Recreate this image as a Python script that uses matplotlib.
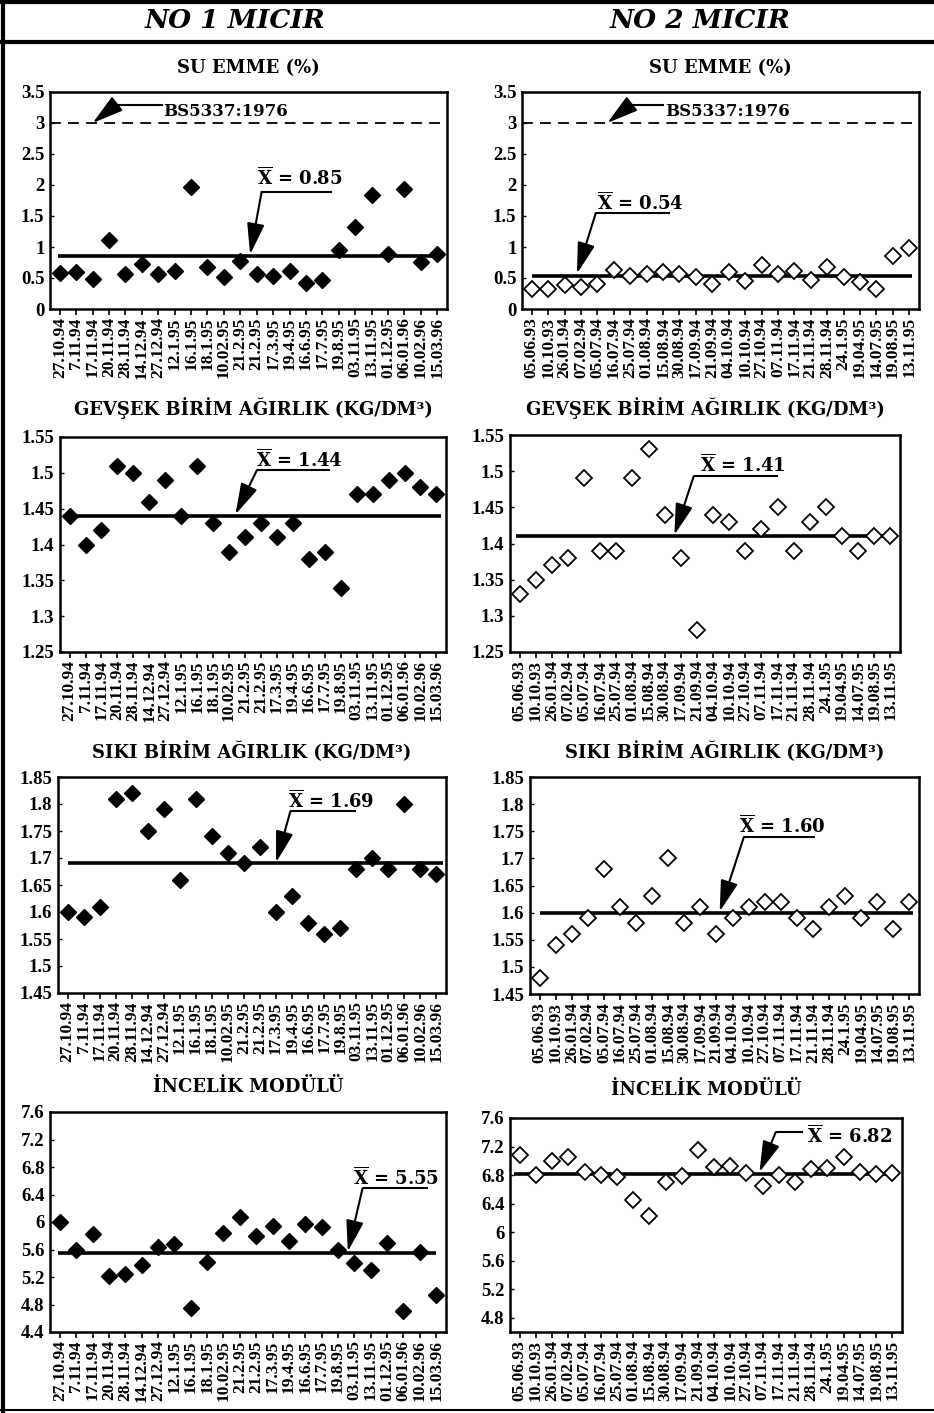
import numpy as np
import matplotlib
matplotlib.use("Agg")
import matplotlib.pyplot as plt
from matplotlib.lines import Line2D
from matplotlib.ticker import FormatStrFormatter

# dates of samples
dates_no1 = ["27.10.94", "7.11.94", "17.11.94", "20.11.94", "28.11.94", "14.12.94",
             "27.12.94", "12.1.95", "16.1.95", "18.1.95", "10.02.95", "21.2.95",
             "21.2.95", "17.3.95", "19.4.95", "16.6.95", "17.7.95", "19.8.95",
             "03.11.95", "13.11.95", "01.12.95", "06.01.96", "10.02.96", "15.03.96"]
dates_no2 = ["05.06.93", "10.10.93", "26.01.94", "07.02.94", "05.07.94", "16.07.94",
             "25.07.94", "01.08.94", "15.08.94", "30.08.94", "17.09.94", "21.09.94",
             "04.10.94", "10.10.94", "27.10.94", "07.11.94", "17.11.94", "21.11.94",
             "28.11.94", "24.1.95", "19.04.95", "14.07.95", "19.08.95", "13.11.95"]

su_no1 = [0.58, 0.60, 0.48, 1.12, 0.57, 0.73, 0.56, 0.61, 1.96, 0.68, 0.51, 0.77,
          0.56, 0.53, 0.61, 0.42, 0.47, 0.95, 1.33, 1.84, 0.88, 1.94, 0.75, 0.88]
su_no2 = [0.33, 0.32, 0.38, 0.35, 0.40, 0.63, 0.53, 0.57, 0.60, 0.57, 0.52, 0.40,
          0.60, 0.45, 0.71, 0.57, 0.61, 0.46, 0.68, 0.52, 0.43, 0.33, 0.85, 0.99]
gevsek_no1 = [1.44, 1.40, 1.42, 1.51, 1.50, 1.46, 1.49, 1.44, 1.51, 1.43, 1.39, 1.41,
              1.43, 1.41, 1.43, 1.38, 1.39, 1.34, 1.47, 1.47, 1.49, 1.50, 1.48, 1.47]
gevsek_no2 = [1.33, 1.35, 1.37, 1.38, 1.49, 1.39, 1.39, 1.49, 1.53, 1.44, 1.38, 1.28,
              1.44, 1.43, 1.39, 1.42, 1.45, 1.39, 1.43, 1.45, 1.41, 1.39, 1.41, 1.41]
siki_no1 = [1.60, 1.59, 1.61, 1.81, 1.82, 1.75, 1.79, 1.66, 1.81, 1.74, 1.71, 1.69,
            1.72, 1.60, 1.63, 1.58, 1.56, 1.57, 1.68, 1.70, 1.68, 1.80, 1.68, 1.67]
siki_no2 = [1.48, 1.54, 1.56, 1.59, 1.68, 1.61, 1.58, 1.63, 1.70, 1.58, 1.61, 1.56,
            1.59, 1.61, 1.62, 1.62, 1.59, 1.57, 1.61, 1.63, 1.59, 1.62, 1.57, 1.62]
incelik_no1 = [6.00, 5.60, 5.83, 5.22, 5.25, 5.38, 5.63, 5.68, 4.75, 5.42, 5.84, 6.07,
               5.80, 5.94, 5.72, 5.97, 5.93, 5.60, 5.40, 5.30, 5.69, 4.70, 5.56, 4.94]
incelik_no2 = [7.08, 6.80, 7.00, 7.05, 6.85, 6.80, 6.77, 6.45, 6.22, 6.70, 6.78, 7.15,
               6.92, 6.93, 6.83, 6.65, 6.80, 6.70, 6.88, 6.90, 7.05, 6.85, 6.82, 6.83]

means = [0.85, 0.54, 1.44, 1.41, 1.69, 1.60, 5.55, 6.82]
bs_limit = 3.0

titles = ["SU EMME (%)", "GEVŞEK BİRİM AĞIRLIK (KG/DM³)",
          "SIKI BİRİM AĞIRLIK (KG/DM³)", "İNCELİK MODÜLÜ"]
headers = ["NO 1 MICIR", "NO 2 MICIR"]

W, H = 934, 1413
SERIF = "DejaVu Serif"
TICKFONT = "Liberation Serif"
plt.rcParams["mathtext.fontset"] = "dejavuserif"
ARROW = dict(arrowstyle="-|>,head_length=1.6,head_width=0.45", color="k", lw=1.5,
             shrinkA=0, shrinkB=0, mutation_scale=12)

fig = plt.figure(figsize=(W / 100, H / 100), dpi=100)


def px_axes(x0, y0, x1, y1):
    return fig.add_axes([x0 / W, 1 - y1 / H, (x1 - x0) / W, (y1 - y0) / H])


def fig_line(x0, y0, x1, y1, lw=2.5):
    fig.add_artist(Line2D([x0 / W, x1 / W], [1 - y0 / H, 1 - y1 / H],
                          transform=fig.transFigure, color="k", lw=lw))


# panel layout: pixel box, title y, ylim, yticks, mean line extent, annotation
panels = [
    dict(box=(50, 92, 447, 309), ty=68, vals=su_no1, dates=dates_no1, filled=True,
         ylim=(0, 3.5), yt=np.arange(0, 3.51, 0.5), mean=means[0], span=(-0.1, 23.4),
         txt=(12.0, 2.11), ul=(12.3, 16.6, 1.89), tip=(11.6, 0.88), bs=(3.4, 6.2, 2.0)),
    dict(box=(522, 92, 919, 309), ty=68, vals=su_no2, dates=dates_no2, filled=False,
         ylim=(0, 3.5), yt=np.arange(0, 3.51, 0.5), mean=means[1], span=(0.0, 23.2),
         txt=(3.95, 1.71), ul=(3.9, 8.4, 1.55), tip=(2.75, 0.57), bs=(6.0, 8.0, 4.6)),
    dict(box=(60, 437, 446, 652), ty=408, vals=gevsek_no1, dates=dates_no1, filled=True,
         ylim=(1.25, 1.55), yt=np.arange(1.25, 1.551, 0.05), mean=means[2], span=(-0.4, 23.3),
         txt=(11.7, 1.518), ul=(11.75, 16.3, 1.504), tip=(10.4, 1.442)),
    dict(box=(510, 435, 900, 652), ty=408, vals=gevsek_no2, dates=dates_no2, filled=False,
         ylim=(1.25, 1.55), yt=np.arange(1.25, 1.551, 0.05), mean=means[3], span=(-0.2, 23.4),
         txt=(11.2, 1.509), ul=(10.8, 16.0, 1.493), tip=(9.6, 1.412)),
    dict(box=(58, 777, 446, 993), ty=752, vals=siki_no1, dates=dates_no1, filled=True,
         ylim=(1.45, 1.85), yt=np.arange(1.45, 1.851, 0.05), mean=means[4], span=(0.0, 23.4),
         txt=(13.75, 1.806), ul=(13.9, 18.0, 1.787), tip=(13.0, 1.692)),
    dict(box=(530, 777, 919, 994), ty=752, vals=siki_no2, dates=dates_no2, filled=False,
         ylim=(1.45, 1.85), yt=np.arange(1.45, 1.851, 0.05), mean=means[5], span=(0.0, 23.2),
         txt=(12.4, 1.761), ul=(12.7, 17.1, 1.739), tip=(11.2, 1.602)),
    dict(box=(50, 1112, 446, 1332), ty=1087, vals=incelik_no1, dates=dates_no1, filled=True,
         ylim=(4.4, 7.6), yt=np.arange(4.4, 7.61, 0.4), mean=means[6], span=(-0.1, 23.0),
         txt=(17.9, 6.65), ul=(18.5, 22.5, 6.49), tip=(17.6, 5.57)),
    dict(box=(510, 1118, 902, 1332), ty=1090, vals=incelik_no2, dates=dates_no2, filled=False,
         ylim=(4.6, 7.6), yt=np.arange(4.8, 7.61, 0.4), mean=means[7], span=(-0.35, 23.3),
         txt=(17.75, 7.35), side=(15.8, 17.5, 7.4), tip=(14.8, 6.84)),
]

for i, p in enumerate(panels):
    x0, y0, x1, y1 = p["box"]
    ax = px_axes(x0, y0, x1, y1)
    x = np.arange(len(p["vals"]))
    if p["filled"]:
        ax.plot(x, p["vals"], "D", color="k", ms=8.5, zorder=4)
    else:
        ax.plot(x, p["vals"], "D", mfc="white", mec="k", mew=1.3, ms=8, zorder=4)

    ax.hlines(p["mean"], p["span"][0], p["span"][1], color="k", lw=2.6, zorder=3)

    ax.set_xlim(-0.6, 23.6)
    ax.set_ylim(*p["ylim"])
    ax.set_yticks(p["yt"])
    ax.yaxis.set_major_formatter(FormatStrFormatter("%g"))
    ax.set_xticks(x)
    ax.set_xticklabels(p["dates"], rotation=90, fontfamily=TICKFONT,
                       fontweight="bold", fontsize=12.5)
    for lab in ax.get_yticklabels():
        lab.set_fontfamily(TICKFONT)
        lab.set_fontweight("bold")
        lab.set_fontsize(13.5)
    ax.tick_params(axis="x", direction="out", length=4, width=1.2, pad=2)
    ax.tick_params(axis="y", direction="in", length=3, width=1.0, pad=4)
    for s in ax.spines.values():
        s.set_linewidth(1.8)

    # mean annotation
    label = r"$\overline{\mathbf{X}}$ = " + "%.2f" % p["mean"]
    ax.text(p["txt"][0], p["txt"][1], label, fontfamily=SERIF, fontweight="bold",
            fontsize=13, va="center", ha="left", zorder=5)
    if "ul" in p:
        ux0, ux1, uy = p["ul"]
    else:
        ux0, ux1, uy = p["side"]
    ax.plot([ux0, ux1], [uy, uy], color="k", lw=1.5, solid_capstyle="butt")
    ax.annotate("", xy=p["tip"], xytext=(ux0, uy), arrowprops=ARROW)

    # BS5337 limit for water absorption
    if "bs" in p:
        ax.axhline(bs_limit, color="k", lw=1.3, ls=(0, (6, 4)))
        bx0, bx1, btip = p["bs"]
        by = 3.29
        ax.plot([bx0, bx1], [by, by], color="k", lw=1.5)
        ax.annotate("", xy=(btip, bs_limit), xytext=(bx0, by), arrowprops=ARROW)
        ax.text(bx1 + 0.1, 3.19, "BS5337:1976", fontfamily=SERIF, fontweight="bold",
                fontsize=12, va="center", ha="left")

    fig.text(((x0 + x1) / 2) / W, 1 - p["ty"] / H, titles[i // 2], ha="center",
             va="center", fontfamily=SERIF, fontweight="bold", fontsize=13)

# header row and outer frame
fig.text(235 / W, 1 - 21 / H, headers[0], ha="center", va="center",
         fontfamily=SERIF, fontweight="bold", fontstyle="italic", fontsize=19)
fig.text(700 / W, 1 - 21 / H, headers[1], ha="center", va="center",
         fontfamily=SERIF, fontweight="bold", fontstyle="italic", fontsize=19)
fig_line(0, 2, W, 2, lw=3)
fig_line(0, 42, W, 42, lw=3)
fig_line(3, 0, 3, 1412, lw=3)
fig_line(0, 1410, W, 1410, lw=1.5)

fig.savefig("out.png", dpi=100)
